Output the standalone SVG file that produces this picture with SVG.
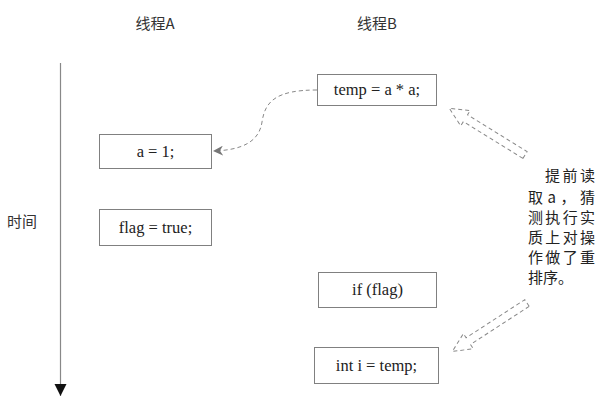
<svg xmlns="http://www.w3.org/2000/svg" width="606" height="414" viewBox="0 0 606 414">
<style>
.box{fill:#fff;stroke:#808080;stroke-width:1}
.code{font-family:"Liberation Serif","Times New Roman",serif;font-size:16.5px;fill:#222;text-anchor:middle}
.cjk{font-family:"Noto Sans CJK SC","Noto Sans",sans-serif;font-size:15px;fill:#333}
.note{font-family:"Noto Sans CJK SC","Noto Sans",sans-serif;font-size:15px;fill:#222}
.dash{fill:none;stroke:#888;stroke-width:1;stroke-dasharray:4 3}
</style>
<defs>
<marker id="tri" markerWidth="10" markerHeight="10" refX="9" refY="5" orient="auto" markerUnits="userSpaceOnUse">
<path d="M0,0 L10,5 L0,10 L3,5 Z" fill="#777"/>
</marker>
<marker id="down" markerWidth="14" markerHeight="14" refX="12" refY="6" orient="auto" markerUnits="userSpaceOnUse">
<path d="M0,0 L12,6 L0,12 Z" fill="#111"/>
</marker>
<path id="hollow" d="M0,-4 L70,-4 L70,-9 L89,0 L70,9 L70,4 L0,4 Z" class="dash"/>
</defs>

<g id="labels">
<text class="cjk" x="155" y="29" text-anchor="middle">线程A</text>
<text class="cjk" x="377" y="29" text-anchor="middle">线程B</text>
<text class="cjk" x="22" y="227" text-anchor="middle">时间</text>
</g>

<g id="timeline">
<line x1="60.5" y1="63" x2="60.5" y2="396" stroke="#888" stroke-width="1.2" marker-end="url(#down)"/>
</g>

<g id="node-a1">
<rect class="box" x="99.5" y="134.5" width="112" height="34"/>
<text class="code" x="155.5" y="157">a = 1;</text>
</g>
<g id="node-flag-true">
<rect class="box" x="99.5" y="209.5" width="112" height="36"/>
<text class="code" x="155.5" y="233">flag = true;</text>
</g>
<g id="node-temp">
<rect class="box" x="317.5" y="74.5" width="119" height="31"/>
<text class="code" x="377" y="95">temp = a * a;</text>
</g>
<g id="node-if">
<rect class="box" x="318.5" y="272.5" width="118" height="35"/>
<text class="code" x="377.5" y="295">if (flag)</text>
</g>
<g id="node-int">
<rect class="box" x="314.5" y="347.5" width="124" height="36"/>
<text class="code" x="376.5" y="371">int i = temp;</text>
</g>

<g id="connectors">
<path class="dash" d="M317,90 C275,90 265,102 262,122 C259,143 240,150 214,151" marker-end="url(#tri)"/>
<use href="#hollow" transform="translate(525,155) rotate(211.7)"/>
<use href="#hollow" transform="translate(527,303) rotate(147)"/>
</g>

<g id="note">
<text class="note" x="545" y="181" textLength="50" lengthAdjust="spacing">提前读</text>
<text class="note" x="528" y="203" textLength="67" lengthAdjust="spacing">取a，猜</text>
<text class="note" x="528" y="223" textLength="67" lengthAdjust="spacing">测执行实</text>
<text class="note" x="528" y="243" textLength="67" lengthAdjust="spacing">质上对操</text>
<text class="note" x="528" y="263" textLength="67" lengthAdjust="spacing">作做了重</text>
<text class="note" x="528" y="283">排序。</text>
</g>
</svg>
